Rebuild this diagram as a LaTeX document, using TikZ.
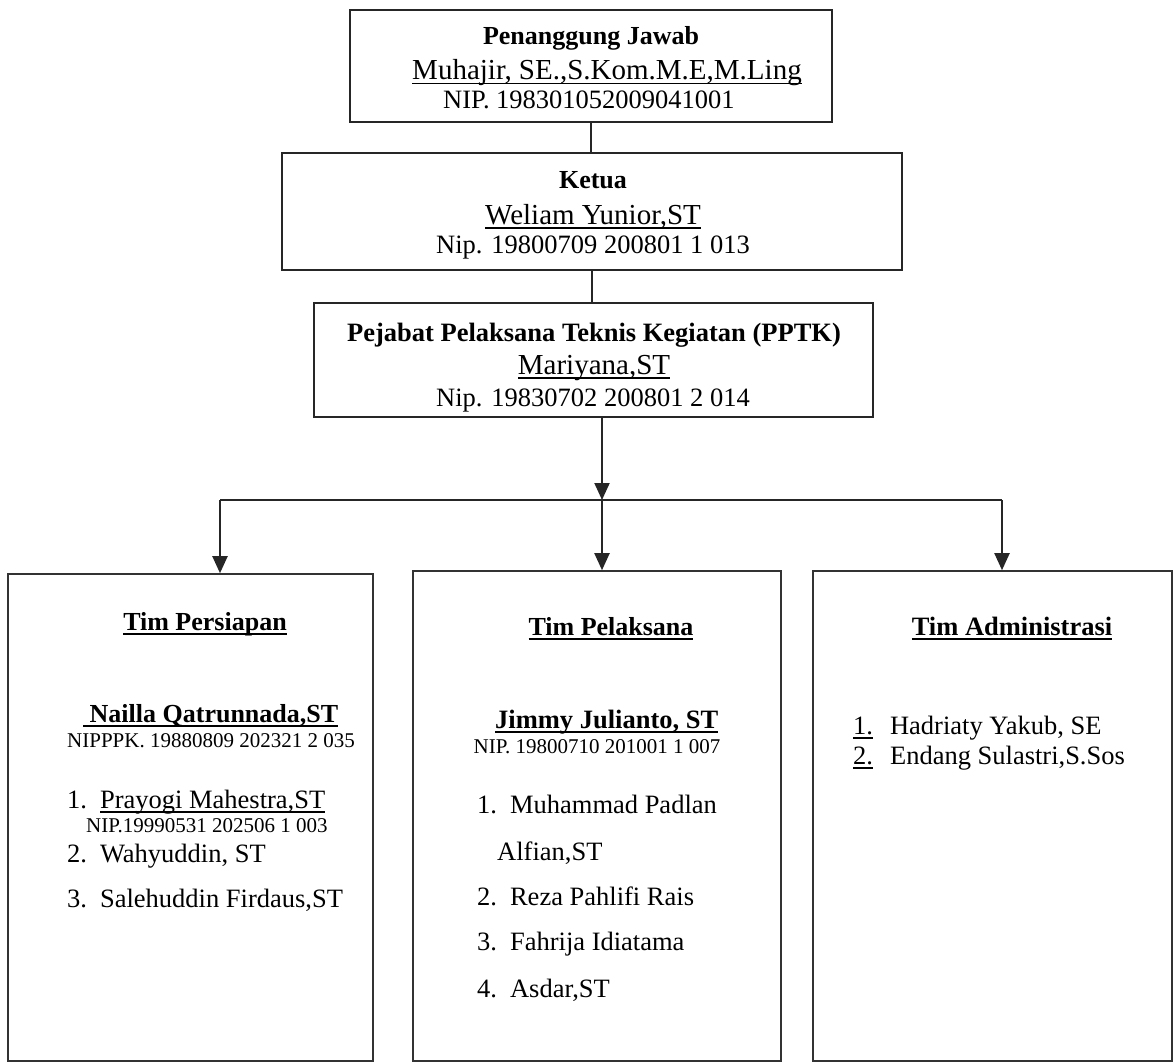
\documentclass[tikz,border=0pt]{standalone}
\usepackage{fontspec}
\setmainfont{Liberation Serif}
\usetikzlibrary{arrows.meta}

\newcommand{\fsz}[1]{\fontsize{#1}{#1}\selectfont}
\newcommand{\uln}[1]{\setbox0\hbox{#1}\rlap{\vrule height -3pt depth 4.5pt width \wd0}\box0}

\begin{document}
\begin{tikzpicture}[x=1pt, y=-1pt,
	box/.style={draw=black!85, line width=2pt, inner sep=0pt},
	teambox/.style={draw=black!80, line width=1.6pt, inner sep=0pt},
	txt/.style={anchor=base, inner sep=0pt},
	item/.style={anchor=base west, inner sep=0pt},
	link/.style={draw=black!85, line width=2pt},
	arrow/.style={link, -{Triangle[width=15pt,length=17pt]}}]
	\useasboundingbox (0,0) rectangle (1175,1062);
	% boxes
	\node (pj)     at (591, 66)    [box, minimum width=482pt, minimum height=112pt] {};
	\node (ketua)  at (592, 211.5) [box, minimum width=620pt, minimum height=117pt] {};
	\node (pptk)   at (593.5, 360) [box, minimum width=559pt, minimum height=114pt] {};
	\node (persiapan) at (190.5, 817.5) [teambox, minimum width=365pt, minimum height=487pt] {};
	\node (pelaksana) at (597, 816)     [teambox, minimum width=368pt, minimum height=490pt] {};
	\node (admin)     at (992.5, 816)   [teambox, minimum width=359pt, minimum height=490pt] {};
	% texts of the top boxes
	\node (pjTitle) at (591, 45)  [txt] {\fsz{26}\bfseries Penanggung Jawab};
	\node (pjName)  at (607, 80)  [txt] {\fsz{29}\uln{Muhajir, SE.,S.Kom.M.E,M.Ling}};
	\node (pjNip)   at (589, 109) [txt] {\fsz{26.5}NIP. 198301052009041001};
	\node (ketuaTitle) at (593, 188) [txt] {\fsz{26}\bfseries Ketua};
	\node (ketuaName)  at (593, 224) [txt] {\fsz{29}\uln{Weliam Yunior,ST}};
	\node (ketuaNip)   at (593, 253) [txt] {\fsz{26.5}Nip. 19800709 200801 1 013};
	\node (pptkTitle) at (594, 341) [txt] {\fsz{26.5}\bfseries Pejabat Pelaksana Teknis Kegiatan (PPTK)};
	\node (pptkName)  at (594, 374) [txt] {\fsz{29}\uln{Mariyana,ST}};
	\node (pptkNip)   at (593, 406) [txt] {\fsz{26.5}Nip. 19830702 200801 2 014};
	% connectors
	\coordinate (busL) at (220, 500);
	\coordinate (busM) at (602, 500);
	\coordinate (busR) at (1002, 500);
	\draw[link] (pj.south) -- (pj.south |- ketua.north);
	\draw[link] (ketua.south) -- (ketua.south |- pptk.north);
	\draw[arrow] (pptk.south -| busM) -- (busM);
	\draw[link] (busL) -- (busR);
	\draw[arrow] (busL) -- (busL |- persiapan.north);
	\draw[arrow] (busM) -- (busM |- pelaksana.north);
	\draw[arrow] (busR) -- (busR |- admin.north);
	% Tim Persiapan
	\node (persTitle) at (205, 630) [txt] {\fsz{26}\bfseries\uln{Tim Persiapan}};
	\node (persHead)  at (83, 722)  [item] {\fsz{26}\bfseries\uln{\ Nailla Qatrunnada,ST}};
	\node (persNip)   at (211, 747) [txt] {\fsz{21}NIPPPK. 19880809 202321 2 035};
	\node (persA) at (67, 808) [item] {\fsz{26.5}1.\hspace{13pt}\uln{Prayogi Mahestra,ST}};
	\node (persANip) at (86, 832) [item] {\fsz{21}NIP.19990531 202506 1 003};
	\node (persB) at (67, 862) [item] {\fsz{26.5}2.\hspace{13pt}Wahyuddin, ST};
	\node (persC) at (67, 907) [item] {\fsz{26.5}3.\hspace{13pt}Salehuddin Firdaus,ST};
	% Tim Pelaksana
	\node (pelTitle) at (611, 635) [txt] {\fsz{26}\bfseries\uln{Tim Pelaksana}};
	\node (pelHead)  at (495, 728) [item] {\fsz{26.5}\bfseries\uln{Jimmy Julianto, ST}};
	\node (pelNip)   at (597, 753) [txt] {\fsz{21}NIP. 19800710 201001 1 007};
	\node (pelA)  at (477, 813) [item] {\fsz{26.5}1.\hspace{13pt}Muhammad Padlan};
	\node (pelA2) at (497, 860) [item] {\fsz{26.5}Alfian,ST};
	\node (pelB)  at (477, 905) [item] {\fsz{26.5}2.\hspace{13pt}Reza Pahlifi Rais};
	\node (pelC)  at (477, 950) [item] {\fsz{26.5}3.\hspace{13pt}Fahrija Idiatama};
	\node (pelD)  at (477, 997) [item] {\fsz{26.5}4.\hspace{13pt}Asdar,ST};
	% Tim Administrasi
	\node (admTitle) at (1012, 635) [txt] {\fsz{26.5}\bfseries\uln{Tim Administrasi}};
	\node (admA) at (853, 734) [item] {\fsz{26.5}\uln{1.}\hspace{17pt}Hadriaty Yakub, SE};
	\node (admB) at (853, 764) [item] {\fsz{26.5}\uln{2.}\hspace{17pt}Endang Sulastri,S.Sos};
\end{tikzpicture}
\end{document}
